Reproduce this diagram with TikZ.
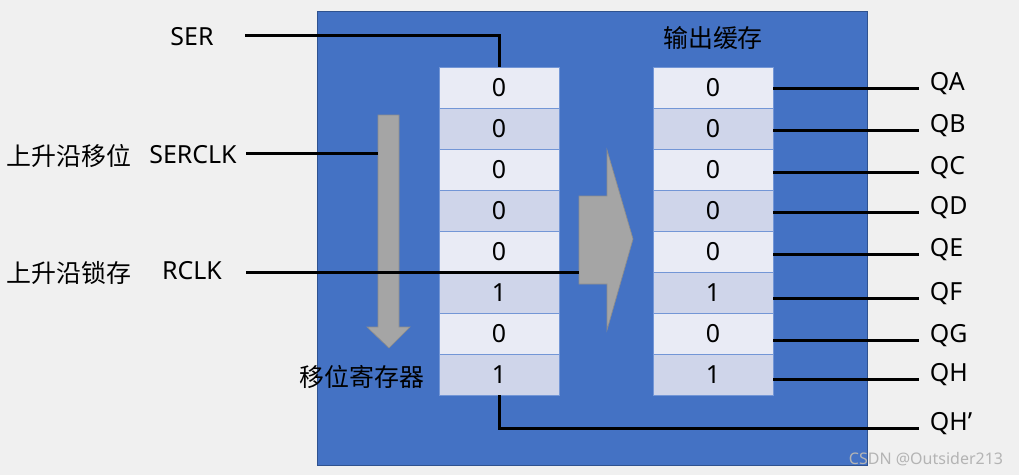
\documentclass[tikz,border=0pt]{standalone}
\usepackage{fontspec}
\setmainfont{Noto Sans}
\newfontfamily\cjk{Noto Sans CJK SC}
\definecolor{bgray}{HTML}{F0F0F0}
\definecolor{chipblue}{HTML}{4472C4}
\definecolor{chipedge}{HTML}{2F528F}
\definecolor{celllight}{HTML}{E9EBF5}
\definecolor{celldark}{HTML}{CFD5EA}
\definecolor{cellline}{HTML}{7396D6}
\definecolor{arrowgray}{HTML}{A5A5A5}
\definecolor{arrowedge}{HTML}{8C8C8C}
\definecolor{markgray}{HTML}{B4B4B4}

\begin{document}
\begin{tikzpicture}[x=0.75pt,y=-0.75pt]
            \tikzset{
                txt/.style={font=\fontsize{18.7}{22}\selectfont, inner sep=0pt},
                cell/.style={txt, draw=cellline, line width=0.75pt, minimum width=90pt, minimum height=30.75pt, outer sep=0pt},
                wire/.style={line width=2.25pt, black},
                bigarrow/.style={fill=arrowgray, draw=arrowedge, line width=0.5pt},
                outlab/.style={txt, anchor=west}
            }
            \fill[bgray] (0,0) rectangle (1019,475);
            \useasboundingbox (0,0) rectangle (1019,475);
            \draw[fill=chipblue, draw=chipedge, line width=0.75pt] (317,11) rectangle (867,465);

            % shift and latch arrows
            \draw[bigarrow] (378,115) -- (399,115) -- (399,327) -- (410,327) -- (389,348) -- (367,327) -- (378,327) -- cycle;
            \draw[bigarrow] (579,196) -- (607,196) -- (607,150) -- (633,239) -- (607,330) -- (607,284) -- (579,284) -- cycle;

            \foreach \i/\v/\f/\lab/\wy in {%
                1/0/celllight/QA/88, 2/0/celldark/QB/130, 3/0/celllight/QC/172, 4/0/celldark/QD/212,%
                5/0/celllight/QE/254, 6/1/celldark/QF/298, 7/0/celllight/QG/340, 8/1/celldark/QH/379%
            }{
            \pgfmathsetmacro\cy{87.5+41*(\i-1)}
            \draw node[cell, fill=\f] (l\i) at (499,\cy) {\v};
            \draw node[cell, fill=\f] (r\i) at (713,\cy) {\v};
            \coordinate (w\i) at (919,\wy);
            \draw node[outlab] (q\i) at ([xshift=8pt,yshift=3pt]w\i) {\lab};
            \draw[wire] (r\i.east |- w\i) -- (w\i);
            }

            \draw node[txt] (ser) at (192,37) {SER};
            \draw node[txt] (serclk) at (193,155) {SERCLK};
            \draw node[txt] (rclk) at (192,271) {RCLK};
            \draw node[txt] (shiftnote) at (69,156) {\cjk 上升沿移位};
            \draw node[txt] (latchnote) at (69,273) {\cjk 上升沿锁存};
            \draw node[txt] (sreg) at (362,377) {\cjk 移位寄存器};
            \draw node[txt] (obuf) at (713,38) {\cjk 输出缓存};

            \coordinate (serin) at (245,35);
            \coordinate (clkin) at (246,153);
            \coordinate (shiftin) at (378,153);
            \coordinate (rclkin) at (246,272);
            \coordinate (latchin) at (579,272);
            \coordinate (w9) at (919,428);
            \draw[wire] (serin) -- (l1.north |- serin) -- (l1.north);
            \draw[wire] (clkin) -- (shiftin);
            \draw[wire] (rclkin) -- (latchin);
            \draw node[outlab] (q9) at ([xshift=8pt,yshift=3pt]w9) {QH’};
            \draw[wire] (l8.south) -- (l8.south |- w9) -- (w9);

            \draw node[font=\fontsize{12}{14}\selectfont, text=markgray, inner sep=0pt] (mark) at (926,459) {CSDN @Outsider213};
        \end{tikzpicture}
\end{document}
